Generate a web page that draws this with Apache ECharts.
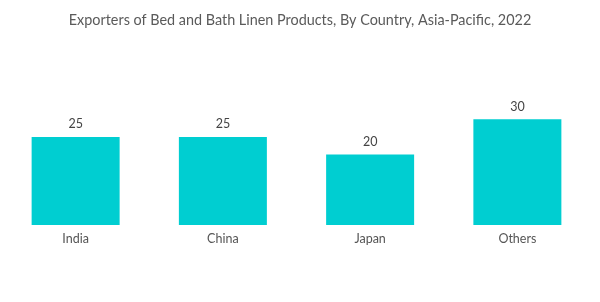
<!DOCTYPE html>
<html>
<head>
<meta charset="utf-8">
<script src="https://cdn.jsdelivr.net/npm/echarts@6/dist/echarts.min.js"></script>
<style>html,body{margin:0;padding:0;background:#fff}#c{width:600px;height:302px}</style>
</head>
<body>
<div id="c"></div>
<script>
const categories = ['India', 'China', 'Japan', 'Others'];
const values = [25, 25, 20, 30];

const chart = echarts.init(document.getElementById('c'), null, {renderer: 'canvas'});
chart.setOption({
  animation: false,
  title: {
    text: 'Exporters of Bed and Bath Linen Products, By Country, Asia-Pacific, 2022',
    left: 'center',
    top: 8,
    textStyle: {fontFamily: 'Lato', fontSize: 14.4, fontWeight: 'normal', color: '#5a5a5a'}
  },
  grid: {left: 2, right: 9, top: 84, bottom: 77, containLabel: false},
  xAxis: {
    type: 'category',
    data: categories,
    axisLine: {show: false},
    axisTick: {show: false},
    axisLabel: {fontFamily: 'Lato', fontSize: 12.5, color: '#555', margin: 7}
  },
  yAxis: {
    type: 'value',
    min: 0,
    max: 40,
    show: false,
    splitLine: {show: false}
  },
  series: [{
    type: 'bar',
    data: values,
    barWidth: 88,
    itemStyle: {color: '#00CED1'},
    label: {show: true, position: 'top', distance: 6, fontFamily: 'Lato', fontSize: 12.5, color: '#444'}
  }]
});
</script>
</body>
</html>
